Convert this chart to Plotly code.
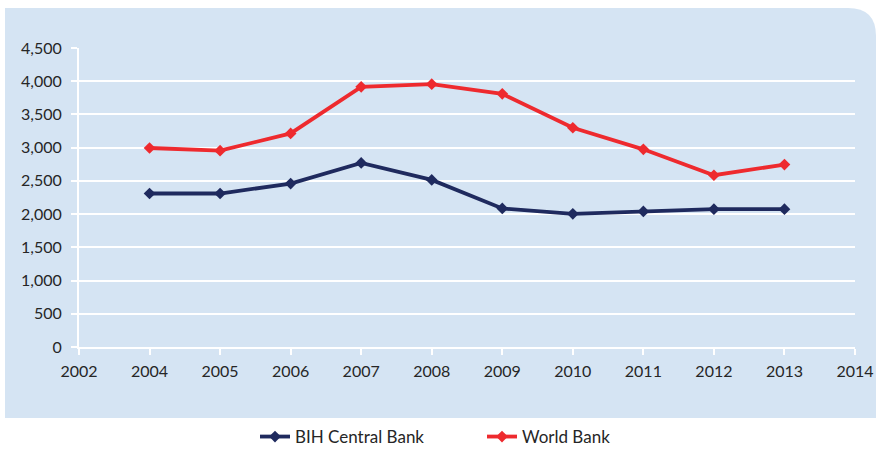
import plotly.graph_objects as go

years = ["2002", "2004", "2005", "2006", "2007", "2008", "2009", "2010", "2011", "2012", "2013", "2014"]
bih_central_bank = [None, 2310, 2310, 2460, 2770, 2515, 2085, 2005, 2040, 2075, 2075, None]
world_bank = [None, 2995, 2955, 3215, 3915, 3955, 3810, 3300, 2975, 2585, 2745, None]

W, H = 876, 449
L, R, T, B = 79, 21, 48, 102
pw, ph = W - L - R, H - T - B


def px(x):
    return (x - L) / pw


def py(y):
    return (H - B - y) / ph


fig = go.Figure()
fig.add_trace(
    go.Scatter(
        x=years,
        y=bih_central_bank,
        mode="lines+markers",
        name="BIH Central Bank",
        line=dict(color="#1f2a5e", width=3.8),
        marker=dict(symbol="diamond", size=9, color="#1f2a5e"),
    )
)
fig.add_trace(
    go.Scatter(
        x=years,
        y=world_bank,
        mode="lines+markers",
        name="World Bank",
        line=dict(color="#ee2a2e", width=3.8),
        marker=dict(symbol="diamond", size=9, color="#ee2a2e"),
    )
)

# light blue panel with a rounded top-right corner
x0, x1, y0, y1 = px(5), px(876), py(418), py(8)
rx, ry = 28 / pw, 28 / ph
panel = (
    f"M {x0},{y0} L {x0},{y1} L {x1 - rx},{y1} "
    f"Q {x1},{y1} {x1},{y1 - ry} L {x1},{y0} Z"
)
fig.add_shape(
    type="path",
    path=panel,
    xref="paper",
    yref="paper",
    fillcolor="#d5e4f3",
    line_width=0,
    layer="below",
)

font = dict(family="Lato, sans-serif", size=16, color="#262626")
fig.update_layout(
    width=W,
    height=H,
    paper_bgcolor="white",
    plot_bgcolor="rgba(0,0,0,0)",
    font=font,
    showlegend=True,
    legend=dict(
        orientation="h",
        xanchor="left",
        x=px(255),
        yanchor="middle",
        y=py(437),
        font=dict(size=17, color="#262626"),
        entrywidth=182,
        bgcolor="rgba(0,0,0,0)",
    ),
    margin=dict(l=L, r=R, t=T, b=B, autoexpand=False),
    xaxis=dict(
        type="category",
        categoryorder="array",
        categoryarray=years,
        range=[0, len(years) - 1],
        automargin=False,
        showgrid=False,
        showline=True,
        linecolor="white",
        linewidth=2,
        ticks="outside",
        tickcolor="white",
        ticklen=6,
        tickwidth=1.5,
        ticklabelstandoff=3,
        zeroline=False,
    ),
    yaxis=dict(
        range=[0, 4500],
        dtick=500,
        tickformat=",d",
        automargin=False,
        showgrid=True,
        gridcolor="white",
        gridwidth=1.5,
        showline=True,
        linecolor="white",
        linewidth=2,
        ticks="outside",
        tickcolor="white",
        ticklen=6,
        tickwidth=1.5,
        ticklabelstandoff=6,
        zeroline=False,
    ),
)

fig.write_html(
    "out.html",
    config={"displayModeBar": False},
    post_script="document.body.style.margin = '0';",
)
